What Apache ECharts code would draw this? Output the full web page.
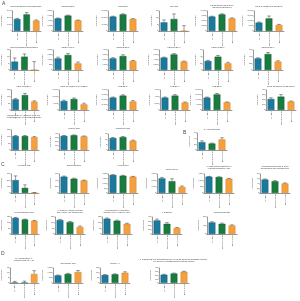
<!DOCTYPE html>
<html><head><meta charset="utf-8">
<script src="https://cdn.jsdelivr.net/npm/echarts@6/dist/echarts.min.js"></script>
<style>html,body{margin:0;padding:0;background:#fff}#c{width:300px;height:301px}</style>
</head><body><div id="c"></div>
<script>
// ---------- data ----------
const groups = ['Primary', 'Post-operative', 'Recurrence'];

const titlesA = [
  'Deoxyadenosine monophosphate', 'Ribothymidine', 'Riboflavin', 'Uric acid',
  'PS(16:0/22:6)(18:0/20:6)/\n(18:1/20:5)(20:2/18:4)', 'PC(O-16:0/22:6)(O-18:0/20:6)',
  'Glycerophosphoethanolamine', 'PE(20:4/16:0)', 'PE(18:2/18:1)', 'PE(18:0/20:4)', 'PE(16:0/22:6)', 'PE(18:1/20:4)',
  'PE(P-18:0/20:4)', 'PE(P-16:0/22:6)(O-16:1/22:6)', 'LPE(18:0)', 'LPE(20:4)', 'LPE(22:6)', 'PS(O-20:0/22:6)/(O-22:1/20:6)',
  'Cer(d18:1/24:1) 3-hydroxy-N-(2-oxo-\ntetrahydrofuran-3-yl)hexadecanamide', 'Linoleic acid', 'Palmitoleic acid'
];
const meansA = [
  [1800, 2490, 1560], [5040, 6160, 4240], [21600, 24900, 18000], [6.5, 9, 0], [7200, 8300, 6300], [8400, 12600, 6000],
  [6.3, 10, 0], [1160, 1500, 660], [2320, 2800, 1800], [4960, 6240, 3360], [27, 40, 20], [348, 480, 252],
  [80, 112, 63], [6750, 8250, 4200], [24800, 28800, 16800], [3720, 4320, 2220], [12400, 15600, 7600], [220, 268, 168],
  [105, 105, 97], [352, 368, 340], [11.2, 12.1, 8.7]
];
const errorsA = [
  [100, 280, 100], [150, 200, 150], [600, 900, 500], [1.8, 3.8, 4], [200, 300, 250], [600, 2400, 600],
  [2.7, 2, 6.3], [120, 140, 140], [150, 250, 100], [200, 320, 200], [1.8, 3.6, 3], [20, 45, 25],
  [6, 12, 6], [600, 750, 900], [1200, 1600, 2000], [180, 300, 180], [600, 900, 500], [24, 40, 12],
  [3, 3, 3], [10, 10, 12], [0.5, 0.5, 0.6]
];
const maxA = [3000, 8000, 30000, 15, 10000, 20000, 15, 2000, 4000, 8000, 60, 600, 150, 15000, 40000, 6000, 20000, 400, 150, 400, 15];
const stepA = [1000, 2000, 10000, 5, 2500, 5000, 5, 500, 1000, 2000, 20, 200, 50, 5000, 10000, 2000, 5000, 100, 50, 100, 5];

const titlesB = ['N-Acetylserotonin'];
const meansB = [[27.6, 22.8, 37.2]];
const errorsB = [[4.8, 1.8, 6]];
const maxB = [60];
const stepB = [20];

const titlesC = [
  'Hexanoic acid', 'Butyrylcarnitine', 'L-Threonine', 'Lactic acid (L)',
  '3-Hydroxybutyrylcarnitine &\nL-Octanoylcarnitine (C8)', 'Hexadecanedioic acid & Tetra-\ndecanedioic acid (dicarboxylic)',
  '2-oxoglutaramic acid', '3-Hydroxy-3-methyl-glutaric\nacid (HMG) (C6 dicarboxylic)', 'Acetylcarnitine & Isobutyryl-\ncarnitine (C4) (Hydroxy) (OH)',
  'L-Carnitine', 'Propionylcarnitine'
];
const meansC = [
  [204, 81, 4], [516, 450, 396], [1900, 1820, 1720], [2310, 1860, 960], [1290, 1260, 1125], [56.8, 49.6, 40],
  [142, 128, 117], [123, 105, 62], [135, 117, 90], [320, 240, 140], [136, 120, 100]
];
const errorsC = [
  [66, 48, 4], [18, 18, 12], [30, 40, 30], [150, 390, 150], [20, 20, 25], [2.4, 2.4, 2.4],
  [4, 4, 3], [6, 6, 9], [6, 5, 5], [32, 28, 12], [8, 8, 8]
];
const maxC = [300, 600, 2000, 3000, 1500, 80, 150, 150, 150, 400, 200];
const stepC = [100, 200, 500, 1000, 500, 20, 50, 50, 50, 100, 100];

const titlesD = [
  'N-Acetylaspartyl-L-\nglutamic acid (NAAG)', 'Glycocholic acid', 'Lipoxin A4',
  '1-(5Z,8Z,11Z,14Z-eicosatetraenoyl)-2-(4Z,7Z,10Z,13Z-docosahexaenoyl)-\nsn-glycero-3-phosphocholine [PC(20:4/22:6)]'
];
const meansD = [[0.3, 0.3, 9], [750, 900, 1100], [80, 87, 102], [220, 252, 300]];
const errorsD = [[1.2, 1.5, 3.3], [45, 60, 150], [3, 4, 10], [12, 12, 12]];
const maxD = [15, 1500, 150, 400];
const stepD = [5, 500, 50, 100];

// ---------- layout (axis x, plot top, plot height, title y) ----------
const layoutA = [
  [11, 11, 20, 6], [53, 11, 20, 6], [108, 11, 20, 6], [159, 11, 20, 6], [207, 11, 20, 5], [254, 11, 20, 6],
  [9, 50, 20, 47], [53, 50, 20, 47], [108, 50, 20, 47], [159, 50, 20, 47], [203, 50, 20, 47], [253, 50, 20, 47],
  [9, 90, 20, 86], [59, 90, 20, 86], [108, 90, 20, 86], [160, 90, 20, 86], [202, 90, 20, 86], [266, 90, 20, 86],
  [9, 130, 20, 115], [59, 134, 16, 128], [108, 134, 16, 128]
];
const layoutB = [[197, 133, 17, 129]];
const layoutC = [
  [9, 174, 19, 165], [59, 174, 19, 165], [108, 174, 19, 165], [157, 174, 19, 169], [204, 174, 19, 166], [260, 174, 19, 166],
  [9, 217, 17, 212], [55, 217, 17, 210], [102, 217, 17, 210], [152, 217, 17, 212], [207, 217, 17, 212]
];
const layoutD = [[9, 268, 19, 258], [53, 268, 19, 263], [100, 268, 19, 263], [159, 268, 19, 259]];

const palette = ['#1b7a9b', '#1a7b3f', '#f5a040'];
const edges = ['#0f566e', '#0e5529', '#c47a24'];
const FONT = 'Liberation Sans';

const charts = [];
function addPanel(titles, means, errs, maxs, steps, layout) {
  titles.forEach((t, i) => charts.push({ title: t, means: means[i], errs: errs[i], max: maxs[i], step: steps[i], pos: layout[i] }));
}
addPanel(titlesA, meansA, errorsA, maxA, stepA, layoutA);
addPanel(titlesB, meansB, errorsB, maxB, stepB, layoutB);
addPanel(titlesC, meansC, errorsC, maxC, stepC, layoutC);
addPanel(titlesD, meansD, errorsD, maxD, stepD, layoutD);

function errRender(params, api) {
  const x = api.value(0), m = api.value(1), e = api.value(2);
  const p0 = api.coord([x, m]);
  const p1 = api.coord([x, m + e]);
  const hw = api.size([1, 0])[0] * 0.18;
  const st = { stroke: '#222', lineWidth: 0.45 };
  return { type: 'group', children: [
    { type: 'line', shape: { x1: p0[0], y1: p0[1], x2: p1[0], y2: p1[1] }, style: st },
    { type: 'line', shape: { x1: p1[0] - hw, y1: p1[1], x2: p1[0] + hw, y2: p1[1] }, style: st }
  ] };
}

const option = { animation: false, grid: [], xAxis: [], yAxis: [], series: [], graphic: [] };
charts.forEach((c, i) => {
  const [x, top, h, ty] = c.pos;
  const w = 30;
  option.grid.push({ left: x, top: top, width: w, height: h });
  option.xAxis.push({
    type: 'category', gridIndex: i, data: groups,
    axisLine: { lineStyle: { color: '#333', width: 0.5 } }, axisTick: { show: false },
    axisLabel: { rotate: 90, fontSize: 2.2, margin: 1, interval: 0, hideOverlap: false, color: '#333', fontFamily: FONT }
  });
  const maxLen = String(c.max).length;
  option.yAxis.push({
    type: 'value', gridIndex: i, min: 0, max: c.max, interval: c.step,
    name: 'Peak intensity', nameLocation: 'middle', nameGap: 3 + maxLen * 1.0,
    nameTextStyle: { fontSize: 1.8, color: '#444', fontFamily: FONT },
    axisLine: { show: true, lineStyle: { color: '#333', width: 0.5 } },
    axisTick: { show: true, length: 0.8, lineStyle: { width: 0.4 } },
    axisLabel: { fontSize: 1.8, margin: 1, color: '#444', fontFamily: FONT },
    splitLine: { show: false }
  });
  option.series.push({
    type: 'bar', xAxisIndex: i, yAxisIndex: i, barWidth: '68%',
    data: c.means.map((v, j) => ({ value: v, itemStyle: { color: palette[j], borderColor: edges[j], borderWidth: 0.4 } }))
  });
  option.series.push({
    type: 'custom', xAxisIndex: i, yAxisIndex: i, renderItem: errRender, z: 5,
    encode: { x: 0, y: 1 }, data: c.means.map((v, j) => [j, v, c.errs[j]])
  });
  option.graphic.push({
    type: 'text', x: x + 15, y: ty - 1.2, silent: true,
    style: { text: c.title, fontSize: 2.1, lineHeight: 2.6, fill: '#333', align: 'center', textAlign: 'center',
             verticalAlign: 'top', textVerticalAlign: 'top', fontFamily: FONT }
  });
});

const letters = [['A', 2, 1], ['B', 183, 130], ['C', 1, 162], ['D', 1, 251]];
letters.forEach(([t, x, y]) => option.graphic.push({
  type: 'text', x: x, y: y, silent: true,
  style: { text: t, fontSize: 5, fill: '#444', fontFamily: FONT, align: 'left', verticalAlign: 'top', textVerticalAlign: 'top' }
}));

const chart = echarts.init(document.getElementById('c'), null, { renderer: 'canvas' });
chart.setOption(option);
</script>
</body></html>
